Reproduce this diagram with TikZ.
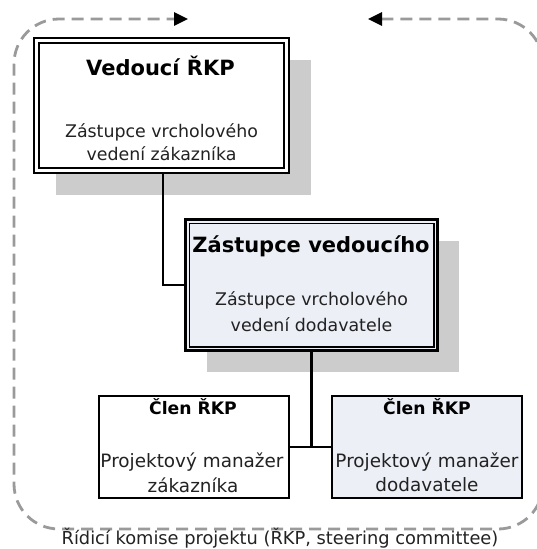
\documentclass[tikz,border=0pt]{standalone}
\usepackage{fontspec}
\setmainfont{DejaVu Sans}
\usetikzlibrary{arrows.meta,shadows}
\definecolor{paleblue}{HTML}{ECEFF6}
\definecolor{shadowgray}{HTML}{CCCCCC}
\definecolor{framegray}{HTML}{9A9A9A}
\definecolor{textgray}{HTML}{222222}
\begin{document}
\begin{tikzpicture}[x=1pt,y=-1pt,
  box/.style={rectangle, inner sep=0pt, draw=black, fill=white},
  shade/.style={drop shadow={shadow xshift=#1, shadow yshift=-#1,
      fill=shadowgray, opacity=1}},
  bigtitle/.style={font=\bfseries\fontsize{21}{25}\selectfont, text=black},
  smalltitle/.style={font=\bfseries\fontsize{17.2}{20}\selectfont, text=black},
  bodytext/.style={font=\fontsize{17.4}{20}\selectfont, text=textgray},
  membertext/.style={font=\fontsize{18.4}{21}\selectfont, text=textgray},
  captiontext/.style={font=\fontsize{17.8}{21}\selectfont, text=textgray},
  link/.style={draw=black, line width=2.2pt},
  frame/.style={draw=framegray, line width=2.8pt, dash pattern=on 12pt off 7pt,
      rounded corners=45pt,
      arrows={Triangle[length=14pt,width=13pt,color=black]-Triangle[length=14pt,width=13pt,color=black]}}
]
\clip (0,0) rectangle (537,549);

% committee frame with the two arrow ends at the top
\draw[frame] (368,19) -- (543,19) -- (543,529) -- (14,529) -- (14,19) -- (188,19);

% committee lead
\node[box, shade=22pt, line width=2.2pt, minimum width=255pt, minimum height=135pt]
  (lead) at (161.5,105.5) {};
\draw[line width=2.4pt] ([shift={(6,6)}]lead.north west) rectangle ([shift={(-6,-6)}]lead.south east);
\node[bigtitle] (leadtitle) at (160.5,66) {Vedoucí ŘKP};
\node[bodytext] (leadline1) at (161.5,132) {Zástupce vrcholového};
\node[bodytext] (leadline2) at (161.5,154) {vedení zákazníka};

% deputy lead
\node[box, shade=21pt, fill=paleblue, line width=3.8pt, minimum width=252pt, minimum height=131pt]
  (deputy) at (311.5,285) {};
\draw[line width=1.2pt] ([shift={(5.5,5.5)}]deputy.north west) rectangle ([shift={(-5.5,-5.5)}]deputy.south east);
\node[bigtitle] (deputytitle) at (311,246) {Zástupce vedoucího};
\node[bodytext] (deputyline1) at (311.5,300) {Zástupce vrcholového};
\node[bodytext] (deputyline2) at (311.5,325) {vedení dodavatele};

% committee members
\node[box, line width=2.2pt, minimum width=190pt, minimum height=102pt]
  (custpm) at (194,447) {};
\node[smalltitle] (custpmtitle) at (193,407) {Člen ŘKP};
\node[membertext] (custpmline1) at (192,462) {Projektový manažer};
\node[membertext] (custpmline2) at (193,485) {zákazníka};

\node[box, fill=paleblue, line width=2.2pt, minimum width=190pt, minimum height=102pt]
  (suppm) at (427,447) {};
\node[smalltitle] (suppmtitle) at (427,407) {Člen ŘKP};
\node[membertext] (suppmline1) at (427,462) {Projektový manažer};
\node[membertext] (suppmline2) at (427,485) {dodavatele};

% reporting lines
\draw[link] ([xshift=1.5pt]lead.south) |- (deputy.west);
\draw[link] (deputy.south) -- (deputy.south |- custpm.east);
\draw[link] (custpm.east) -- (suppm.west);

% frame caption
\node[captiontext] (caption) at (280,538) {Řídicí komise projektu (ŘKP, steering committee)};
\end{tikzpicture}
\end{document}
